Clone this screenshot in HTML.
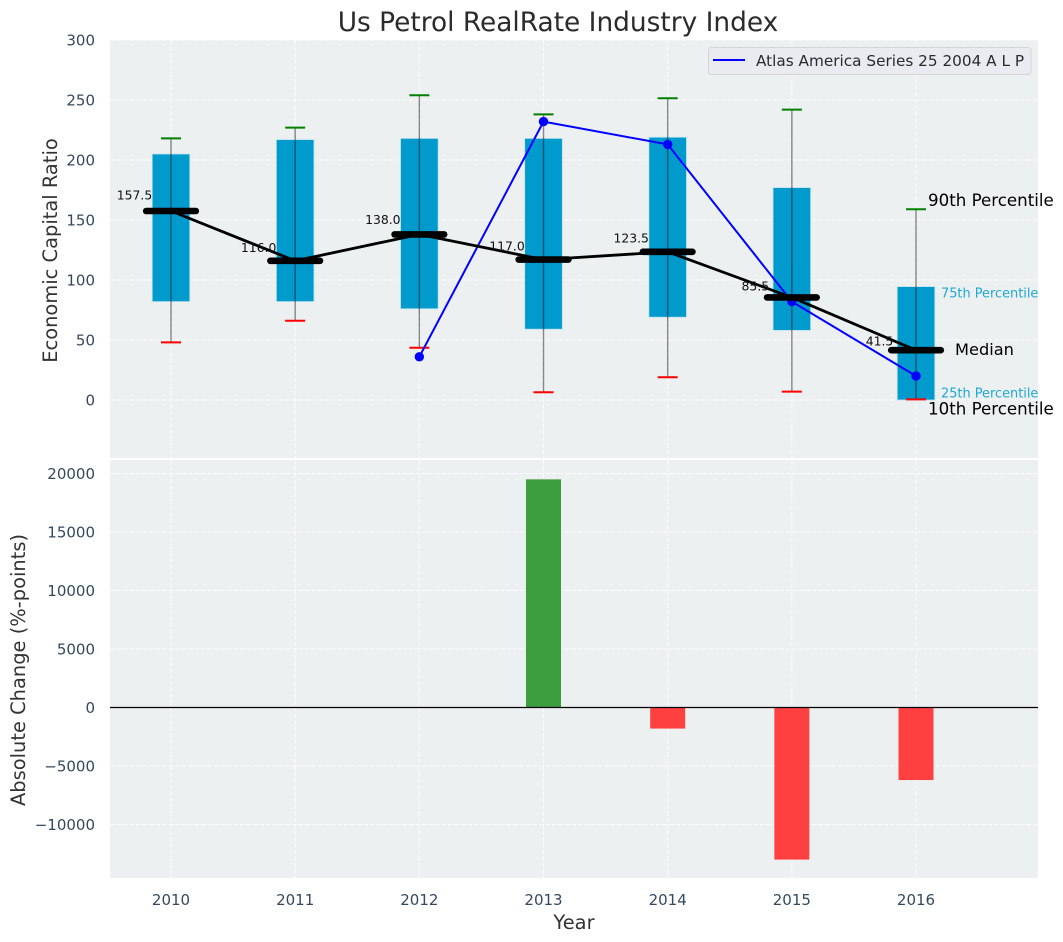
<!DOCTYPE html>
<html>
<head>
<meta charset="utf-8">
<title>Us Petrol RealRate Industry Index</title>
<style>
html,body{margin:0;padding:0;background:#fff;}
svg{display:block;font-family:"DejaVu Sans","Liberation Sans",sans-serif;}
</style>
</head>
<body>
<svg id="chart" width="1063" height="942" viewBox="0 0 1063 942" xmlns="http://www.w3.org/2000/svg"></svg>
<script>
const years = [2010, 2011, 2012, 2013, 2014, 2015, 2016];
const p10 = [48, 66, 43.5, 6.5, 19, 7, 0.5];
const p25 = [82, 82, 76, 59, 69, 58, 0];
const medians = [157.5, 116.0, 138.0, 117.0, 123.5, 85.5, 41.5];
const p75 = [205, 217, 218, 218, 219, 177, 94.5];
const p90 = [218, 227, 254, 238, 251.5, 242, 159];
const seriesValues = [null, null, 36, 232, 213, 82, 20];
const changes = [0, 0, 0, 19500, -1800, -13000, -6200];
const topTicks = [0, 50, 100, 150, 200, 250, 300];
const bottomTicks = [-10000, -5000, 0, 5000, 10000, 15000, 20000];

const svg = document.getElementById('chart');
const NS = 'http://www.w3.org/2000/svg';
const x = function (year) { return 171 + (year - 2010) * 124.17; };
const yTop = function (v) { return 400 - v * 1.2; };
const yBot = function (v) { return 707.5 - v * 0.0117; };
const L = 110, R = 1038;
const GRID = {stroke: '#fff', 'stroke-width': 1.1, 'stroke-dasharray': '4.5 2', 'stroke-opacity': 0.8};

function make(tag, attrs, text) {
  const el = document.createElementNS(NS, tag);
  for (const k in attrs) el.setAttribute(k, attrs[k]);
  if (text !== undefined) el.textContent = text;
  svg.appendChild(el);
  return el;
}
function fmt(v) { return v < 0 ? '\u2212' + Math.abs(v) : String(v); }
let el;

el = make('text', {x: 558, y: 31, 'font-size': 26.4, fill: '#2b2b2b', 'text-anchor': 'middle'}, 'Us Petrol RealRate Industry Index');



el = make('rect', {x: L, y: 40, width: R - L, height: 418, fill: '#ecf0f1'});


el = make('rect', {x: L, y: 460, width: R - L, height: 418, fill: '#ecf0f1'});



topTicks.forEach(function (t) {
  el = make('line', Object.assign({x1: L, x2: R, y1: yTop(t), y2: yTop(t)}, GRID));
  
  
  el = make('text', {x: 95, y: yTop(t) + 5.5, 'font-size': 15, fill: '#34495e', 'text-anchor': 'end'}, fmt(t));
  
  
});
bottomTicks.forEach(function (t) {
  el = make('line', Object.assign({x1: L, x2: R, y1: yBot(t), y2: yBot(t)}, GRID));
  
  
  el = make('text', {x: 95, y: yBot(t) + 5.5, 'font-size': 15, fill: '#34495e', 'text-anchor': 'end'}, fmt(t));
  
  
});
years.forEach(function (yr) {
  el = make('line', Object.assign({x1: x(yr), x2: x(yr), y1: 40, y2: 458}, GRID));
  
  
  el = make('line', Object.assign({x1: x(yr), x2: x(yr), y1: 460, y2: 878}, GRID));
  
  
  el = make('text', {x: x(yr), y: 905, 'font-size': 15, fill: '#34495e', 'text-anchor': 'middle'}, String(yr));
  
  
});

years.forEach(function (yr, i) {
  el = make('rect', {x: x(yr) - 18.8, y: yTop(p75[i]), width: 37.6, height: yTop(p25[i]) - yTop(p75[i]), fill: '#009acd', stroke: '#bfe3ef', 'stroke-width': 0.8});
  
  
  el = make('line', {x1: x(yr), x2: x(yr), y1: yTop(p90[i]), y2: yTop(p10[i]), stroke: '#000', 'stroke-opacity': 0.45, 'stroke-width': 1.4});
  
  
  el = make('line', {x1: x(yr) - 10, x2: x(yr) + 10, y1: yTop(p90[i]), y2: yTop(p90[i]), stroke: '#008000', 'stroke-width': 2});
  
  
  el = make('line', {x1: x(yr) - 10, x2: x(yr) + 10, y1: yTop(p10[i]), y2: yTop(p10[i]), stroke: '#ff0000', 'stroke-width': 2});
  
  
});

const seriesPts = [];
years.forEach(function (yr, i) {
  if (seriesValues[i] !== null) seriesPts.push(x(yr) + ',' + yTop(seriesValues[i]));
});
el = make('polyline', {points: seriesPts.join(' '), fill: 'none', stroke: '#0000ff', 'stroke-width': 2});


years.forEach(function (yr, i) {
  if (seriesValues[i] === null) return;
  el = make('circle', {cx: x(yr), cy: yTop(seriesValues[i]), r: 4.7, fill: '#0000ff'});
  
  
});

el = make('polyline', {points: years.map(function (yr, i) { return x(yr) + ',' + yTop(medians[i]); }).join(' '), fill: 'none', stroke: '#000', 'stroke-width': 2.8});



years.forEach(function (yr, i) {
  el = make('line', {x1: x(yr) - 24.8, x2: x(yr) + 24.8, y1: yTop(medians[i]), y2: yTop(medians[i]), stroke: '#000', 'stroke-width': 6.6, 'stroke-linecap': 'round'});
  
  
  el = make('text', {x: x(yr) - 36.5, y: yTop(medians[i] * 1.05) - 2, 'font-size': 12.4, fill: '#111', 'text-anchor': 'middle'}, medians[i].toFixed(1));
  
  
});

const lastIndex = years.length - 1;
const lastX = x(years[lastIndex]);
el = make('text', {x: lastX + 12, y: yTop(p90[lastIndex]) - 3, 'font-size': 16.67, fill: '#000'}, '90th Percentile');


el = make('text', {x: lastX + 25, y: yTop(p75[lastIndex]) + 11, 'font-size': 12.9, fill: '#1fa8d3'}, '75th Percentile');


el = make('text', {x: lastX + 39, y: yTop(medians[lastIndex]) + 5, 'font-size': 16.2, fill: '#000'}, 'Median');


el = make('text', {x: lastX + 25, y: yTop(p25[lastIndex]) - 2.5, 'font-size': 12.9, fill: '#1fa8d3'}, '25th Percentile');


el = make('text', {x: lastX + 12, y: yTop(p10[lastIndex]) + 15, 'font-size': 16.67, fill: '#000'}, '10th Percentile');



el = make('rect', {x: 708.5, y: 47.5, width: 322.5, height: 27, rx: 3, fill: '#e9ebf0', stroke: '#d3d6d9', 'stroke-width': 1});


el = make('line', {x1: 713, x2: 745, y1: 60, y2: 60, stroke: '#0000ff', 'stroke-width': 2});


el = make('text', {x: 756, y: 66, 'font-size': 15.28, fill: '#2b2b2b'}, 'Atlas America Series 25 2004 A L P');



years.forEach(function (yr, i) {
  if (changes[i] === 0) return;
  const top = Math.min(yBot(changes[i]), yBot(0));
  const h = Math.abs(yBot(changes[i]) - yBot(0));
  el = make('rect', {x: x(yr) - 17.5, y: top, width: 35, height: h, fill: changes[i] > 0 ? '#3c9e3e' : '#ff4040'});
  
  
});
el = make('line', {x1: L, x2: R, y1: yBot(0), y2: yBot(0), stroke: '#000', 'stroke-width': 1.2});



el = make('text', {x: 0, y: 0, transform: 'translate(57,250.5) rotate(-90)', 'font-size': 19.44, fill: '#333', 'text-anchor': 'middle'}, 'Economic Capital Ratio');


el = make('text', {x: 0, y: 0, transform: 'translate(25,670) rotate(-90)', 'font-size': 19.44, fill: '#333', 'text-anchor': 'middle'}, 'Absolute Change (%-points)');


el = make('text', {x: 574, y: 929, 'font-size': 19.44, fill: '#333', 'text-anchor': 'middle'}, 'Year');


</script>
</body>
</html>
